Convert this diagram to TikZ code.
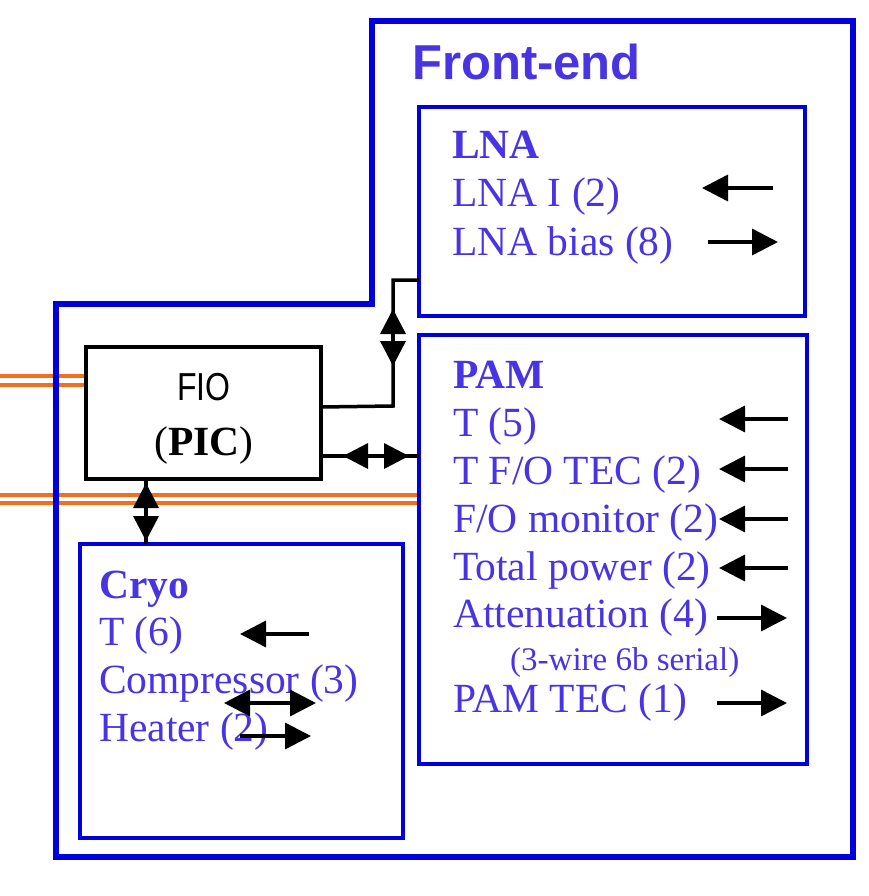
\documentclass[tikz,border=0pt]{standalone}
\usepackage{fontspec}
\setmainfont{Liberation Serif}
\newfontfamily\arialfont{Liberation Sans}
\usetikzlibrary{arrows.meta,calc}
\definecolor{feblue}{RGB}{0,0,220}
\definecolor{ftxt}{RGB}{72,52,226}
\definecolor{cable}{RGB}{240,112,32}
\begin{document}
\begin{tikzpicture}[x=1pt,y=-1pt,
  box/.style={draw=feblue,line width=3.5pt,outer sep=0pt,inner sep=0pt,anchor=north west},
  lbl/.style={anchor=base west,inner sep=0pt,text=ftxt,font=\fontsize{41.5}{48}\selectfont},
  hd/.style={anchor=base west,inner sep=0pt,text=ftxt,font=\fontsize{41.5}{48}\selectfont\bfseries},
  sml/.style={anchor=base west,inner sep=0pt,text=ftxt,font=\fontsize{33}{38}\selectfont},
  sig/.style={line width=3.5pt,-{Triangle[length=26pt,width=26pt]}},
  sigb/.style={line width=3.5pt,{Triangle[length=26pt,width=26pt]}-{Triangle[length=26pt,width=26pt]}},
  link/.style={line width=3.5pt},
  mid/.style={line width=3.5pt,{Triangle[length=25pt,width=25pt]}-{Triangle[length=25pt,width=25pt]}},
  cab/.style={draw=cable,line width=4pt}]
\useasboundingbox (0,0) rectangle (868,896);

% cables
\draw[cab] (0,376) -- (86,376);
\draw[cab] (0,385) -- (86,385);
\draw[cab] (0,495) -- (419,495);
\draw[cab] (0,503) -- (419,503);

% Front-end outline
\draw[feblue,line width=6pt] (372,21) -- (853,21) -- (853,857) -- (56,857) -- (56,304) -- (372,304) -- cycle;
\node[anchor=base west,inner sep=0pt,text=ftxt,font=\arialfont\bfseries\fontsize{49}{56}\selectfont] (fe) at (412,80) {Front-end};

% boxes
\node[box,minimum width=386pt,minimum height=209pt] (lna) at (419,107) {};
\node[box,minimum width=388pt,minimum height=429pt] (pam) at (419,335) {};
\node[box,minimum width=323pt,minimum height=294pt] (cryo) at (80,544) {};
\node[box,draw=black,fill=white,minimum width=235pt,minimum height=132pt] (fio) at (86,347) {};
\node[anchor=base,inner sep=0pt,xscale=0.82,font=\arialfont\fontsize{39}{44}\selectfont] (fiot) at (204,400) {FIO};
\node[anchor=base,inner sep=0pt,font=\fontsize{41.5}{48}\selectfont] (pic) at (204,455) {(\textbf{PIC})};

% LNA
\node[hd] (lnah) at (452,159) {LNA};
\node[lbl] (lna1) at (452,207) {LNA I (2)};
\node[lbl] (lna2) at (452,255) {LNA bias (8)};
\draw[sig] (773,188) -- (702,188);
\draw[sig] (708,242) -- (778,242);

% PAM
\node[hd] (pamh) at (453,388) {PAM};
\node[lbl] (p1) at (453,436) {T (5)};
\node[lbl] (p2) at (453,484) {T F/O TEC (2)};
\node[lbl] (p3) at (453,532) {F/O monitor (2)};
\node[lbl] (p4) at (453,580) {Total power (2)};
\node[lbl] (p5) at (453,627) {Attenuation (4)};
\node[sml] (p5b) at (510,670) {(3-wire 6b serial)};
\node[lbl] (p6) at (453,712) {PAM TEC (1)};
\draw[sig] (788,419) -- (719,419);
\draw[sig] (788,469) -- (719,469);
\draw[sig] (788,519) -- (719,519);
\draw[sig] (788,568) -- (719,568);
\draw[sig] (717,618) -- (787,618);
\draw[sig] (717,703) -- (787,703);

% Cryo
\node[hd] (cryoh) at (99,598) {Cryo};
\node[lbl] (c1) at (99,645) {T (6)};
\node[lbl] (c2) at (99,693) {Compressor (3)};
\node[lbl] (c3) at (99,741) {Heater (2)};
\draw[sig] (309,634) -- (240,634);
\draw[sigb] (224,703) -- (316,703);
\draw[sig] (240,736) -- (311,736);

% connectors
\coordinate (j1) at (393,406);
\coordinate (j2) at (393,280);
\coordinate (py) at (0,456);
\coordinate (cx) at (146,0);
\draw[link] ($(fio.north east)+(0,60)$) -- (j1) -- (j2) -- (lna.west |- j2);
\draw[mid] (393,309) -- (393,366);
\draw[link] (fio.east |- py) -- (pam.west |- py);
\draw[mid] (343,456) -- (409,456);
\draw[link] (fio.south -| cx) -- (cryo.north -| cx);
\draw[mid] (146,483) -- (146,541);
\end{tikzpicture}
\end{document}
